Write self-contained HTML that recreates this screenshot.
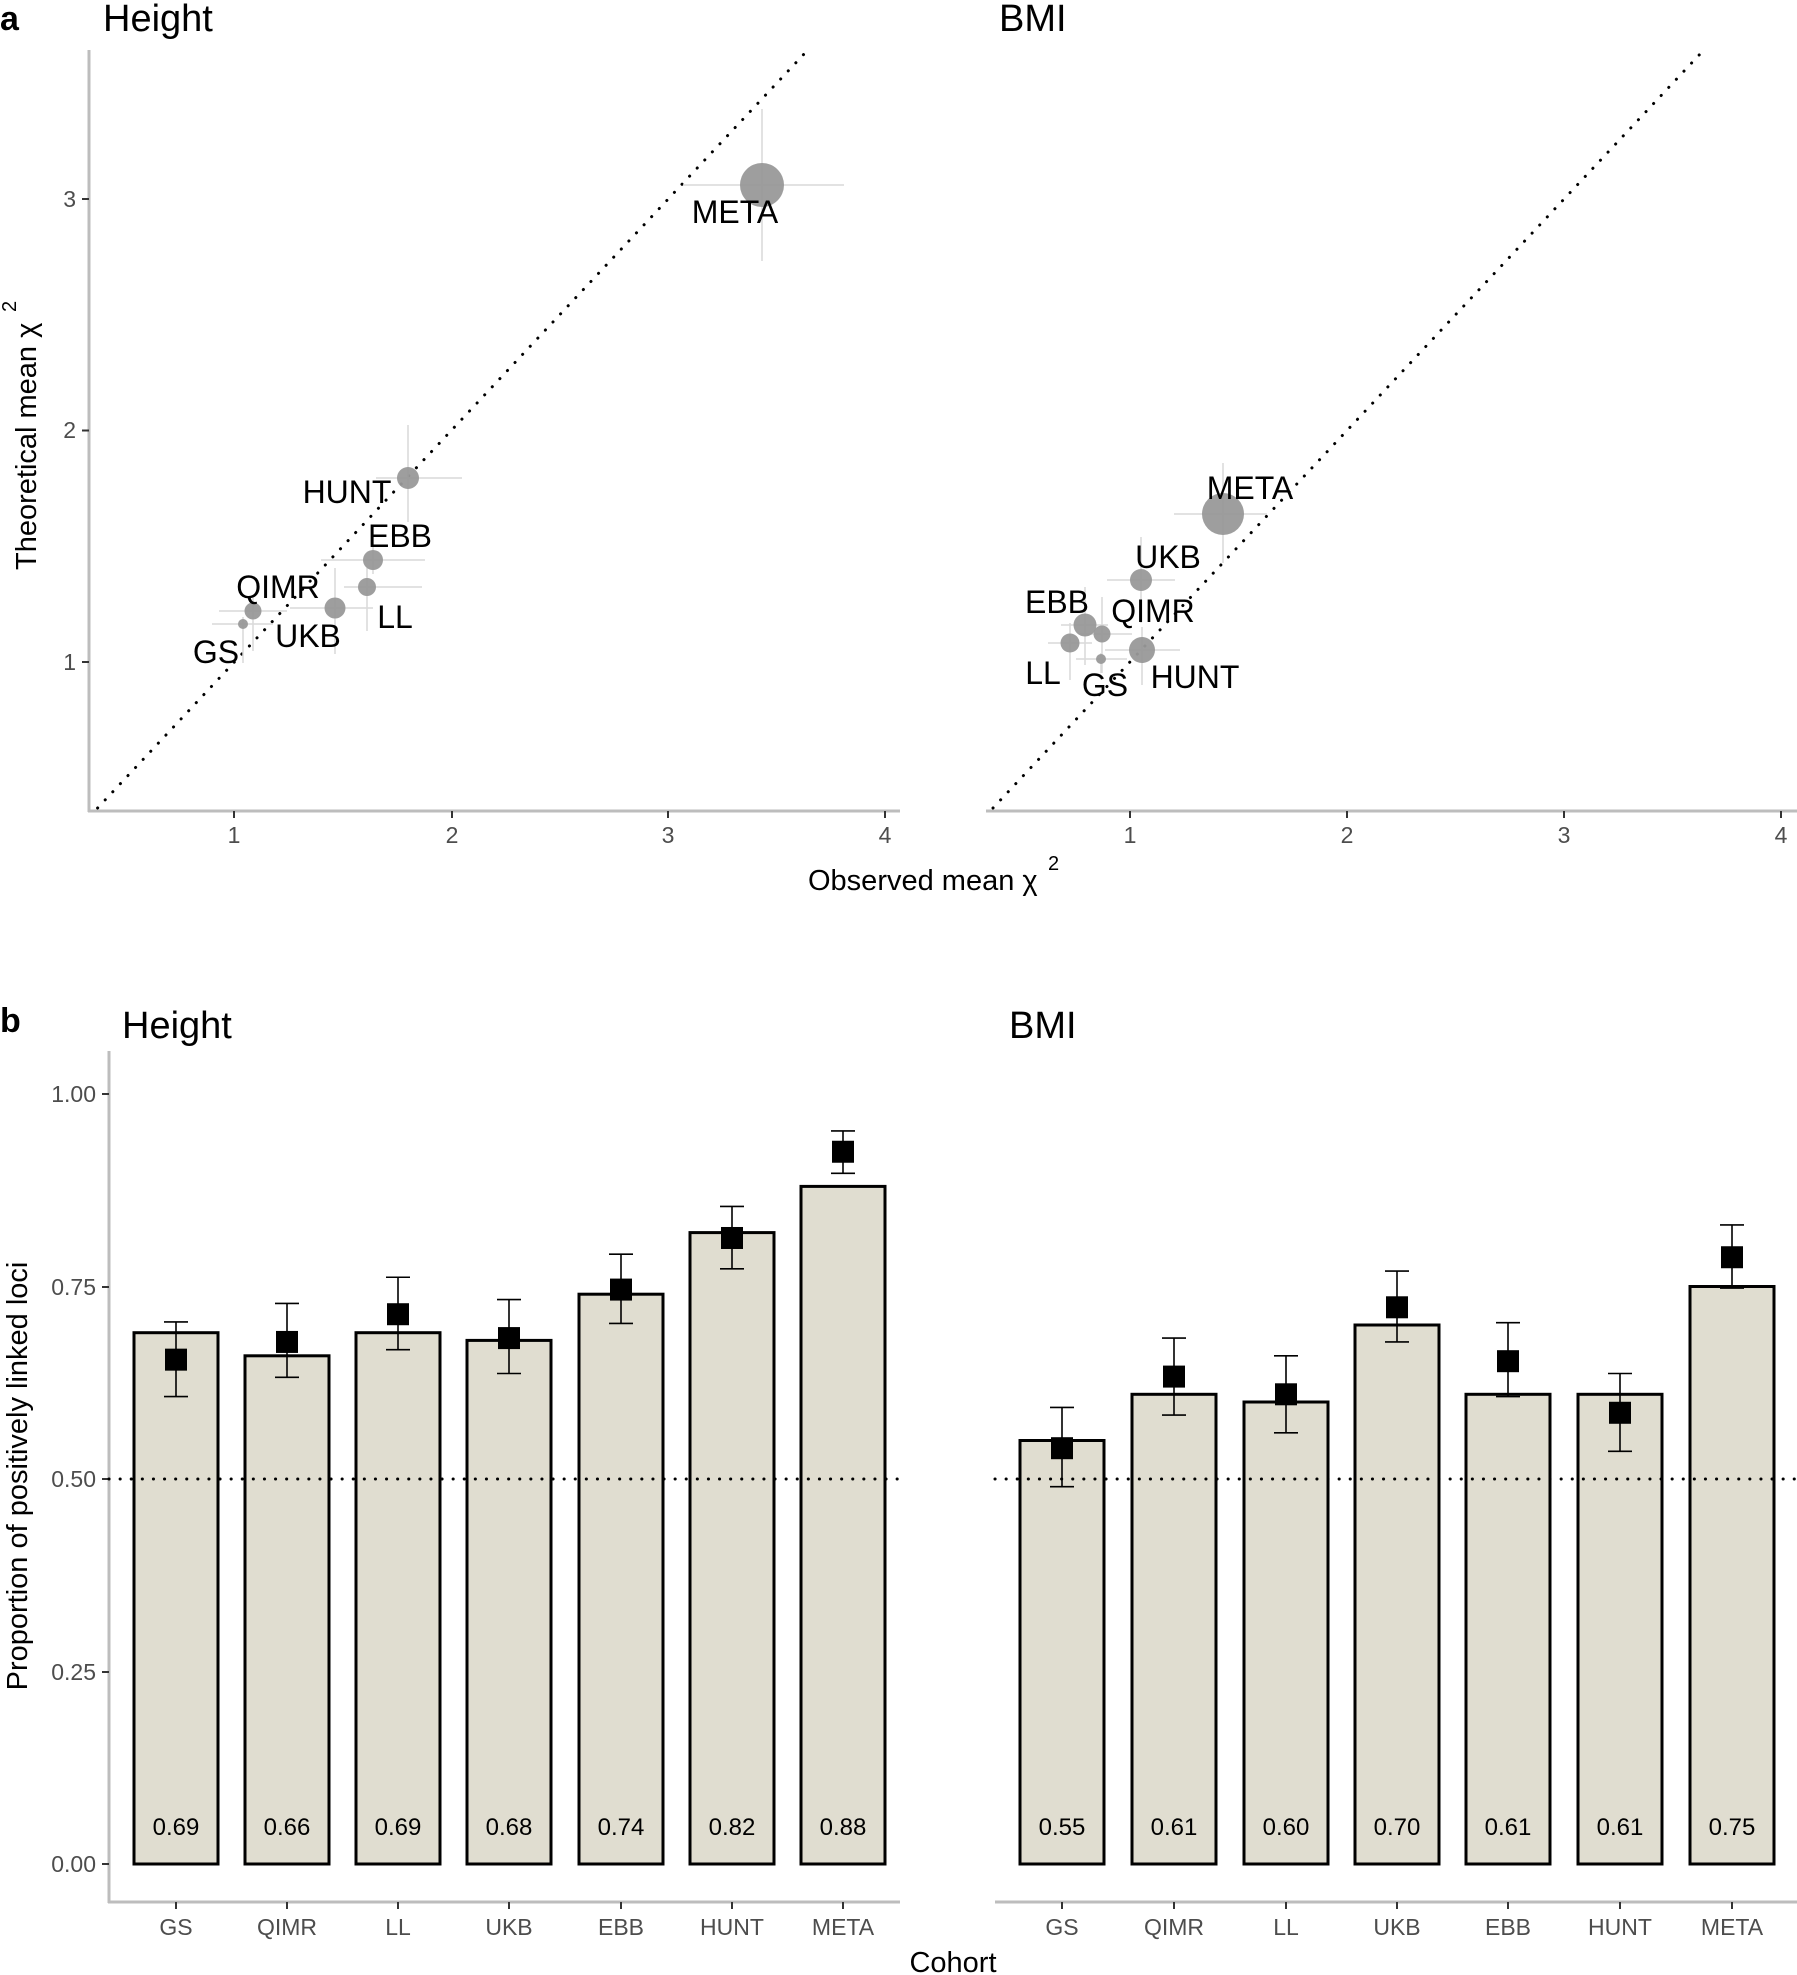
<!DOCTYPE html>
<html><head><meta charset="utf-8"><style>
html,body{margin:0;padding:0;background:#fff}
svg{display:block}
text{font-family:"Liberation Sans",Arial,sans-serif}
.tk{font-size:23px;fill:#4d4d4d}
.lb{font-size:32px;fill:#000}
.ttl{font-size:38px;fill:#000}
.ax{font-size:29px;fill:#000}
.bv{font-size:24px;fill:#000}
</style></head><body>
<svg width="1797" height="1975" viewBox="0 0 1797 1975" xmlns="http://www.w3.org/2000/svg">
<rect width="1797" height="1975" fill="#fff"/>
<!-- Panel a -->
<text x="0" y="30" font-size="34" font-weight="bold" font-family="Liberation Sans">a</text>
<text class="ttl" x="103" y="31">Height</text>
<text class="ttl" x="999" y="31">BMI</text>
<line x1="89" y1="50" x2="89" y2="812" stroke="#bdbdbd" stroke-width="3"/>
<line x1="88" y1="811" x2="900" y2="811" stroke="#bdbdbd" stroke-width="3"/>
<line x1="986" y1="811" x2="1797" y2="811" stroke="#bdbdbd" stroke-width="3"/>
<g stroke="#333" stroke-width="2">
<line x1="82" y1="199" x2="89" y2="199"/><line x1="82" y1="430.5" x2="89" y2="430.5"/><line x1="82" y1="662" x2="89" y2="662"/>
<line x1="234" y1="811" x2="234" y2="818"/><line x1="452" y1="811" x2="452" y2="818"/><line x1="668" y1="811" x2="668" y2="818"/><line x1="885" y1="811" x2="885" y2="818"/>
<line x1="1130" y1="811" x2="1130" y2="818"/><line x1="1347" y1="811" x2="1347" y2="818"/><line x1="1564" y1="811" x2="1564" y2="818"/><line x1="1781" y1="811" x2="1781" y2="818"/>
</g>
<g class="tk" text-anchor="end"><text x="76" y="207">3</text><text x="76" y="438">2</text><text x="76" y="670">1</text></g>
<g class="tk" text-anchor="middle">
<text x="234" y="843">1</text><text x="452" y="843">2</text><text x="668" y="843">3</text><text x="885" y="843">4</text>
<text x="1130" y="843">1</text><text x="1347" y="843">2</text><text x="1564" y="843">3</text><text x="1781" y="843">4</text>
</g>
<text class="ax" x="808" y="890">Observed mean χ</text><text x="1048" y="870" font-size="20" font-family="Liberation Sans">2</text>
<g transform="translate(36,430) rotate(-90)"><text class="ax" x="-140" y="0">Theoretical mean χ</text><text x="118" y="-20" font-size="20" font-family="Liberation Sans">2</text></g>
<line x1="97.6" y1="808" x2="805" y2="53" stroke="#000" stroke-width="3" stroke-dasharray="0.1 11" stroke-linecap="round"/>
<line x1="993" y1="808" x2="1701" y2="53" stroke="#000" stroke-width="3" stroke-dasharray="0.1 11" stroke-linecap="round"/>
<g stroke="#d9d9d9" stroke-width="1.5">
<line x1="683" y1="185" x2="844" y2="185"/><line x1="762" y1="109" x2="762" y2="261"/>
<line x1="376" y1="478" x2="462" y2="478"/><line x1="408" y1="425" x2="408" y2="522"/>
<line x1="321" y1="560" x2="425" y2="560"/><line x1="373" y1="545" x2="373" y2="574"/>
<line x1="344" y1="587" x2="422" y2="587"/><line x1="367" y1="568" x2="367" y2="631"/>
<line x1="290" y1="608" x2="373" y2="608"/><line x1="335" y1="568" x2="335" y2="654"/>
<line x1="219" y1="611" x2="287" y2="611"/><line x1="253" y1="597" x2="253" y2="651"/>
<line x1="212" y1="624" x2="273" y2="624"/><line x1="243" y1="617" x2="243" y2="663"/>
<line x1="1174" y1="514" x2="1267" y2="514"/><line x1="1223" y1="463" x2="1223" y2="563"/>
<line x1="1107" y1="580" x2="1175" y2="580"/><line x1="1141" y1="537" x2="1141" y2="623"/>
<line x1="1061" y1="625" x2="1108" y2="625"/><line x1="1085" y1="587" x2="1085" y2="665"/>
<line x1="1080" y1="634" x2="1132" y2="634"/><line x1="1102" y1="597" x2="1102" y2="673"/>
<line x1="1048" y1="643" x2="1092" y2="643"/><line x1="1070" y1="623" x2="1070" y2="680"/>
<line x1="1105" y1="650" x2="1180" y2="650"/><line x1="1142" y1="627" x2="1142" y2="685"/>
<line x1="1076" y1="659" x2="1127" y2="659"/><line x1="1101" y1="653" x2="1101" y2="673"/>
</g>
<g fill="#999" fill-opacity="0.95">
<circle cx="762" cy="185" r="22"/><circle cx="408" cy="478" r="11"/><circle cx="373" cy="560" r="10"/><circle cx="367" cy="587" r="9"/><circle cx="335" cy="608" r="10.5"/><circle cx="253" cy="611" r="8.5"/><circle cx="243" cy="624" r="5"/>
<circle cx="1223" cy="514" r="21"/><circle cx="1141" cy="580" r="11"/><circle cx="1085" cy="625" r="11.5"/><circle cx="1102" cy="634" r="8.5"/><circle cx="1070" cy="643" r="9.5"/><circle cx="1142" cy="650" r="13"/><circle cx="1101" cy="659" r="5"/>
</g>
<g class="lb" text-anchor="middle">
<text x="735" y="223">META</text><text x="347" y="503">HUNT</text><text x="400" y="547">EBB</text><text x="278" y="598">QIMR</text><text x="395" y="628">LL</text><text x="308" y="647">UKB</text><text x="216" y="663">GS</text>
<text x="1250" y="499">META</text><text x="1168" y="568">UKB</text><text x="1057" y="613">EBB</text><text x="1153" y="622">QIMR</text><text x="1043" y="684">LL</text><text x="1105" y="696">GS</text><text x="1195" y="688">HUNT</text>
</g>
<!-- Panel b -->
<text x="0" y="1032" font-size="34" font-weight="bold" font-family="Liberation Sans">b</text>
<text class="ttl" x="122" y="1038">Height</text>
<text class="ttl" x="1009" y="1038">BMI</text>
<line x1="109" y1="1051" x2="109" y2="1903" stroke="#bdbdbd" stroke-width="3"/>
<line x1="108" y1="1902" x2="900" y2="1902" stroke="#bdbdbd" stroke-width="3"/>
<line x1="995" y1="1902" x2="1797" y2="1902" stroke="#bdbdbd" stroke-width="3"/>
<g stroke="#333" stroke-width="2">
<line x1="102" y1="1094" x2="109" y2="1094"/><line x1="102" y1="1287" x2="109" y2="1287"/><line x1="102" y1="1479" x2="109" y2="1479"/><line x1="102" y1="1672" x2="109" y2="1672"/><line x1="102" y1="1864" x2="109" y2="1864"/>
</g>
<g class="tk" text-anchor="end"><text x="96" y="1102">1.00</text><text x="96" y="1295">0.75</text><text x="96" y="1487">0.50</text><text x="96" y="1680">0.25</text><text x="96" y="1872">0.00</text></g>
<text class="ax" transform="translate(27,1476) rotate(-90)" text-anchor="middle">Proportion of positively linked loci</text>
<text class="ax" x="953" y="1972" text-anchor="middle">Cohort</text>
<g id="bars"></g>
</svg>
<script>
(function(){
var NS="http://www.w3.org/2000/svg",g=document.getElementById("bars");
function el(t,a,txt){var e=document.createElementNS(NS,t);for(var k in a)e.setAttribute(k,a[k]);if(txt!=null)e.textContent=txt;g.appendChild(e);return e;}
function Y(v){return 1864-770*v;}
var names=["GS","QIMR","LL","UKB","EBB","HUNT","META"];
var L={x:[176,287,398,509,621,732,843],bar:[0.69,0.66,0.69,0.68,0.74,0.82,0.88],lab:["0.69","0.66","0.69","0.68","0.74","0.82","0.88"],
m:[0.655,0.678,0.714,0.683,0.746,0.813,0.925],lo:[0.607,0.632,0.668,0.637,0.702,0.773,0.897],hi:[0.704,0.728,0.762,0.733,0.792,0.854,0.952]};
var R={x:[1062,1174,1286,1397,1508,1620,1732],bar:[0.55,0.61,0.60,0.70,0.61,0.61,0.75],lab:["0.55","0.61","0.60","0.70","0.61","0.61","0.75"],
m:[0.54,0.633,0.61,0.723,0.653,0.586,0.788],lo:[0.49,0.583,0.56,0.678,0.607,0.536,0.748],hi:[0.593,0.683,0.66,0.77,0.703,0.637,0.83]};
[L,R].forEach(function(P){
 for(var i=0;i<7;i++){var x=P.x[i];
  el("rect",{x:x-42,y:Y(P.bar[i]),width:84,height:Y(0)-Y(P.bar[i]),fill:"#e0ddd0",stroke:"#000","stroke-width":3});
 }
});
el("line",{x1:109,y1:1479,x2:900,y2:1479,stroke:"#000","stroke-width":3,"stroke-dasharray":"0.1 11","stroke-linecap":"round"});
el("line",{x1:995,y1:1479,x2:1797,y2:1479,stroke:"#000","stroke-width":3,"stroke-dasharray":"0.1 11","stroke-linecap":"round"});
[L,R].forEach(function(P){
 for(var i=0;i<7;i++){var x=P.x[i];
  el("line",{x1:x,y1:Y(P.lo[i]),x2:x,y2:Y(P.hi[i]),stroke:"#000","stroke-width":1.6});
  el("line",{x1:x-12,y1:Y(P.lo[i]),x2:x+12,y2:Y(P.lo[i]),stroke:"#000","stroke-width":1.6});
  el("line",{x1:x-12,y1:Y(P.hi[i]),x2:x+12,y2:Y(P.hi[i]),stroke:"#000","stroke-width":1.6});
  el("rect",{x:x-11,y:Y(P.m[i])-11,width:22,height:22,fill:"#000"});
  el("text",{x:x,y:1835,"class":"bv","text-anchor":"middle"},P.lab[i]);
  el("line",{x1:x,y1:1902,x2:x,y2:1909,stroke:"#333","stroke-width":2});
  el("text",{x:x,y:1935,"class":"tk","text-anchor":"middle"},names[i]);
 }
});
})();
</script>
</body></html>
